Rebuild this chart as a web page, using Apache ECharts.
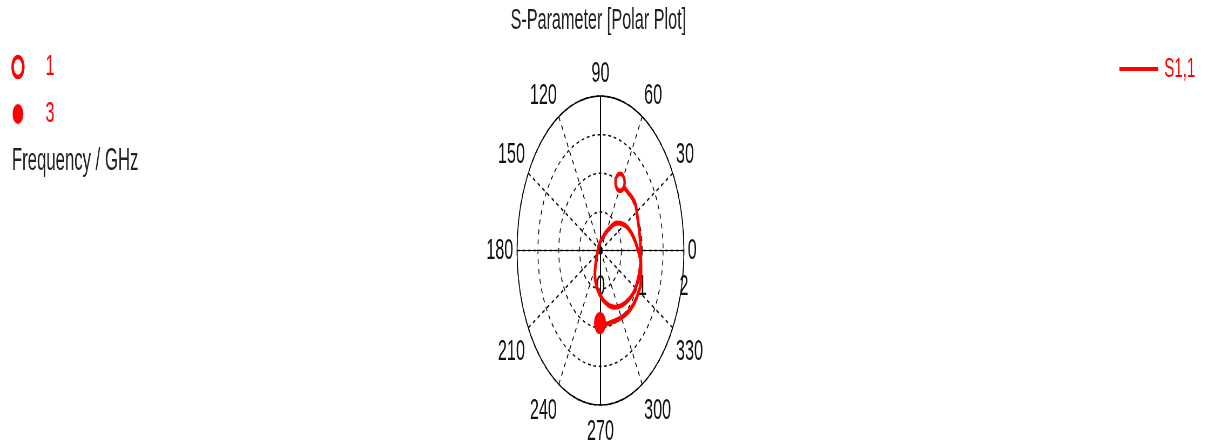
<!DOCTYPE html>
<html>
<head>
<meta charset="utf-8">
<script src="https://cdn.jsdelivr.net/npm/echarts@6/dist/echarts.min.js"></script>
<style>
  html, body { margin: 0; padding: 0; background: #fff; }
  #wrap { position: relative; width: 1207px; height: 448px; overflow: hidden; background: #fff; }
  #main { height: 448px; transform-origin: 0 0; }
</style>
</head>
<body>
<div id="wrap"><div id="main"></div></div>
<script>
// ---------------- data ----------------
const titleText = 'S-Parameter [Polar Plot]';
const freqAxisTitle = 'Frequency / GHz';
const seriesName = 'S1,1';
const startFreqLabel = '1';   // GHz, marker at first point
const endFreqLabel = '3';     // GHz, marker at last point

// S1,1 trace: magnitude and phase (deg), 1 GHz -> 3 GHz
const s11Magnitude = [1.00, 1.00, 1.03, 0.98, 0.96, 0.97, 0.975, 0.965, 0.90, 0.81,
                      0.675, 0.515, 0.343, 0.16, 0.10, 0.08, 0.185, 0.32, 0.53, 0.69,
                      0.80, 0.90, 0.99, 1.05, 1.06, 1.045, 1.00, 0.965, 0.96, 0.94];
const s11PhaseDeg  = [62, 49, 37, 24, 10.5, 356.6, 341, 326, 311, 295,
                      279, 263, 247, 229, 215, 117, 71, 56, 42, 27,
                      13.6, 0.4, 349, 337, 325, 312.6, 299.3, 286.5, 278, 269.3];

const radiusTickLabels = [0, 1, 2];
const radiusMax = 2;
const radiusGridStep = 0.5;
const angleTickStep = 30;

// ---------------- layout ----------------
const S = 0.54;                       // horizontal squeeze of the original picture
const W = Math.round(1207 / S);
const FONT = 'Liberation Sans';
const RED = '#ff0000';
const CX = 1112, CY = 250.5, R = 154.5;

const main = document.getElementById('main');
main.style.width = W + 'px';
main.style.transform = 'scaleX(' + S + ')';

const chart = echarts.init(main, null, { renderer: 'canvas' });

const traceData = s11Magnitude.map((r, i) => [r, s11PhaseDeg[i]]);
const last = traceData.length - 1;

const labelBase = { fontFamily: FONT, fontSize: 30, color: '#111' };

const option = {
  animation: false,
  backgroundColor: '#fff',
  title: [
    { text: titleText, left: 1108, top: 6, textAlign: 'center', padding: 0,
      textStyle: { fontFamily: FONT, fontSize: 30, fontWeight: 'normal', color: '#222' } },
    { text: freqAxisTitle, left: 22, top: 146, padding: 0,
      textStyle: { fontFamily: FONT, fontSize: 31, fontWeight: 'normal', color: '#222' } }
  ],
  legend: [
    { data: [
        { name: startFreqLabel, icon: 'circle',
          itemStyle: { color: '#fff', borderColor: RED, borderWidth: 4.5, opacity: 1 } },
        { name: endFreqLabel, icon: 'circle',
          itemStyle: { color: RED, borderWidth: 0, opacity: 1 } }
      ],
      orient: 'vertical', left: 16, top: 47, itemWidth: 20, itemHeight: 20, itemGap: 17,
      selectedMode: false,
      textStyle: { fontFamily: FONT, fontSize: 30, color: RED, padding: [0, 0, 0, 36] } },
    { data: [{ name: seriesName, icon: 'rect' }], left: 2068, top: 50, itemWidth: 72, itemHeight: 4,
      selectedMode: false,
      itemStyle: { color: RED },
      textStyle: { fontFamily: FONT, fontSize: 28, color: RED, padding: [0, 0, 0, 6] } }
  ],
  polar: [
    { center: [CX, CY], radius: R },
    { center: [CX, CY], radius: R },
    { center: [CX, CY], radius: R }
  ],
  angleAxis: [
    { polarIndex: 0, type: 'value', min: 0, max: 360, interval: angleTickStep,
      startAngle: 0, clockwise: false,
      axisLine: { lineStyle: { color: '#000', width: 1.6 } },
      axisTick: { show: false },
      axisLabel: Object.assign({ margin: 7,
        formatter: v => (v > 180 && v < 360) ? '{low|' + v + '}' : String(v),
        rich: { low: Object.assign({ padding: [5, 0, 0, 0] }, labelBase) } }, labelBase),
      splitLine: { lineStyle: { color: '#000', width: 1.5, type: [5, 5] } } },
    { polarIndex: 1, type: 'value', min: 0, max: 360, interval: 180,
      startAngle: 0, clockwise: false,
      axisLine: { show: false }, axisTick: { show: false }, axisLabel: { show: false },
      splitLine: { lineStyle: { color: '#000', width: 1.2, type: 'solid' } } },
    { polarIndex: 2, type: 'value', min: 0, max: 360, interval: 180,
      startAngle: 90, clockwise: false,
      axisLine: { show: false }, axisTick: { show: false }, axisLabel: { show: false },
      splitLine: { lineStyle: { color: '#000', width: 2, type: 'solid' } } }
  ],
  radiusAxis: [
    { polarIndex: 0, type: 'value', min: 0, max: radiusMax, interval: radiusGridStep,
      axisLine: { show: true, lineStyle: { color: '#000', width: 1.2 } },
      axisTick: { show: false },
      axisLabel: Object.assign({ margin: -21, verticalAlign: 'top',
        formatter: v => radiusTickLabels.includes(v) ? String(v) : '' }, labelBase),
      splitLine: { lineStyle: { color: '#000', width: 1.5, type: [5, 5] } } },
    { polarIndex: 1, type: 'value', min: 0, max: radiusMax, show: false },
    { polarIndex: 2, type: 'value', min: 0, max: radiusMax, show: false }
  ],
  series: [
    { type: 'line', name: seriesName, coordinateSystem: 'polar', polarIndex: 0,
      data: traceData, symbol: 'none', smooth: 0.35, z: 5,
      lineStyle: { color: RED, width: 5 }, itemStyle: { color: RED } },
    { type: 'scatter', name: startFreqLabel, coordinateSystem: 'polar', polarIndex: 0,
      data: [traceData[0]], symbol: 'circle', symbolSize: 17, z: 6,
      itemStyle: { color: '#fff', borderColor: RED, borderWidth: 4.5, opacity: 1 } },
    { type: 'scatter', name: endFreqLabel, coordinateSystem: 'polar', polarIndex: 0,
      data: [traceData[last]], symbol: 'circle', symbolSize: 22, z: 6,
      itemStyle: { color: RED, opacity: 1 } }
  ]
};
chart.setOption(option);
</script>
</body>
</html>
